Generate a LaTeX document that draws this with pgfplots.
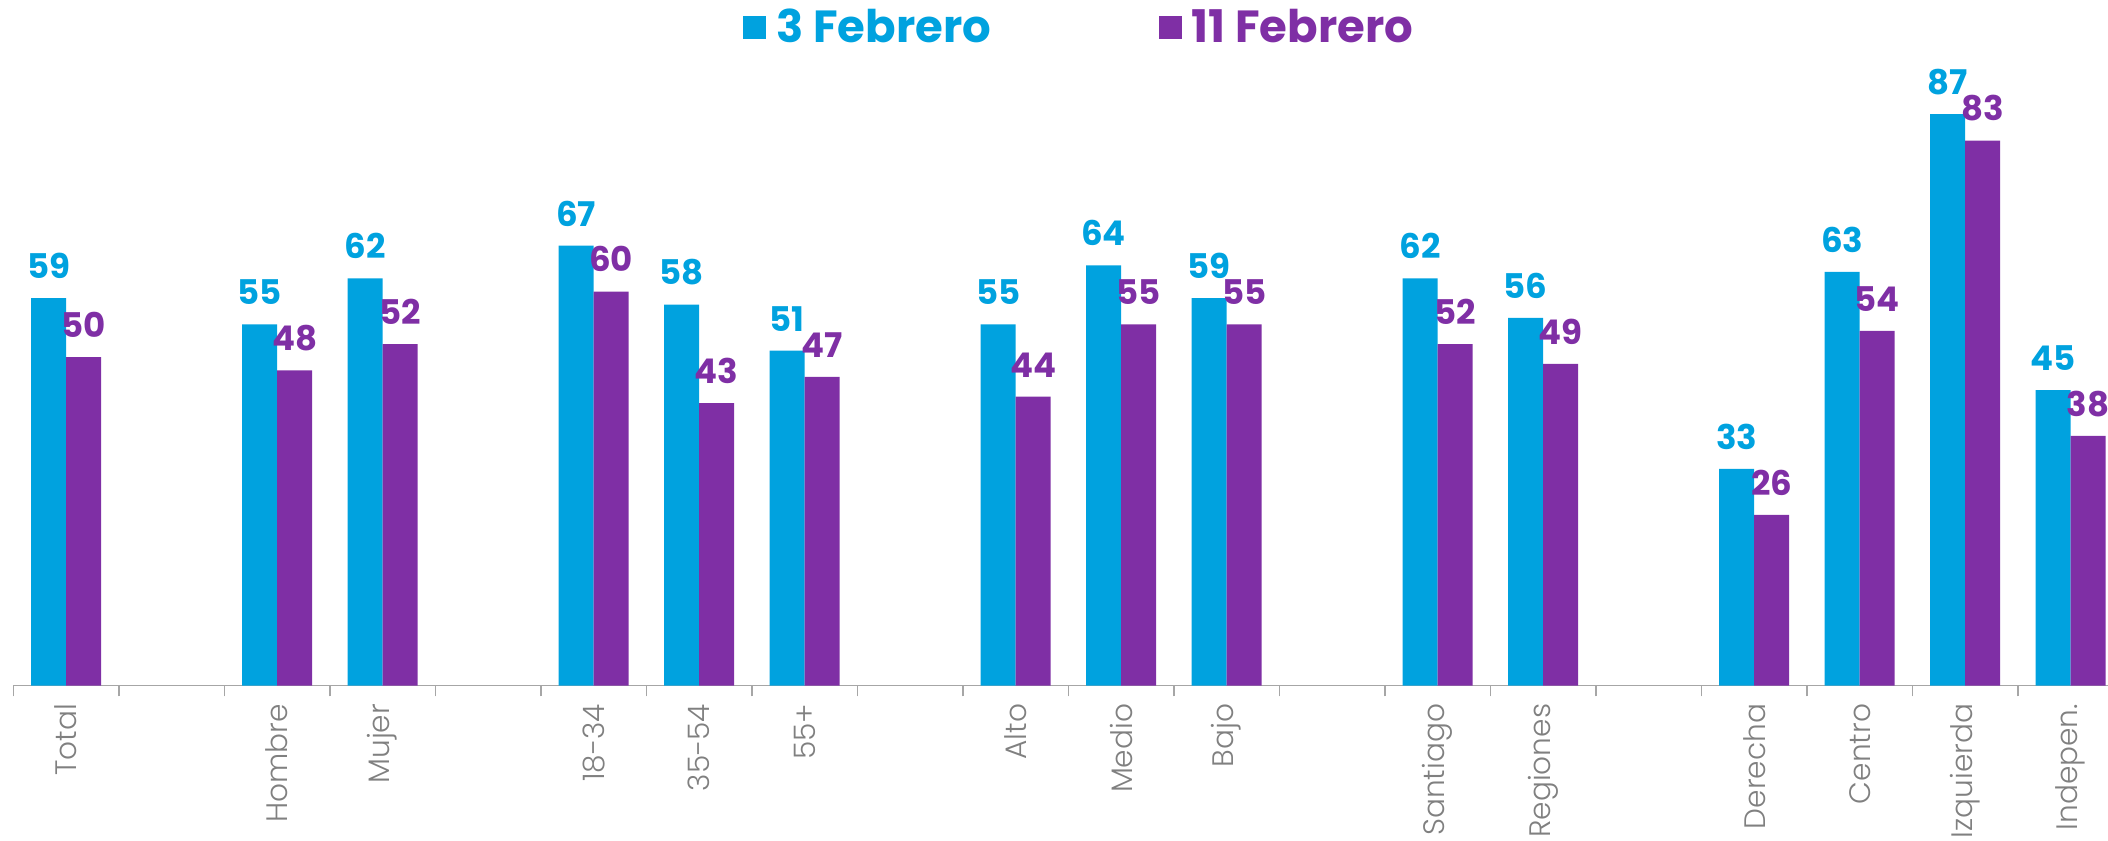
\documentclass[border=0pt]{standalone}
\usepackage{pgfplots}
\pgfplotsset{compat=1.18}
\usepackage{pgfplotstable}
\usepackage{fontspec}
\setmainfont{Poppins}
\IfFontExistsTF{Poppins Light}{\newfontfamily\lightfont{Poppins Light}}{\newfontfamily\lightfont{Poppins}}
\definecolor{cblue}{HTML}{00A2DF}
\definecolor{cpurp}{HTML}{7F2FA5}
\definecolor{axgray}{HTML}{A6A6A6}
\definecolor{lblgray}{HTML}{808080}
\pgfplotstableread{
x b p
0 59 50
2 55 48
3 62 52
5 67 60
6 58 43
7 51 47
9 55 44
10 64 55
11 59 55
13 62 52
14 56 49
16 33 26
17 63 54
18 87 83
19 45 38
}\datatab
\begin{document}
\begin{tikzpicture}
\begin{axis}[
  x=52.75pt, y=3.283pt,
  xmin=-0.5, xmax=19.5, ymin=0, ymax=104.4,
  enlargelimits=false, clip=false,
  axis x line*=bottom, axis y line=none,
  ybar=0pt, bar width=17.5pt,
  /pgf/number format/assume math mode=true,
  xtick={0,2,3,5,6,7,9,10,11,13,14,16,17,18,19},
  xticklabels={Total,Hombre,Mujer,18-34,35-54,55+,Alto,Medio,Bajo,Santiago,Regiones,Derecha,Centro,Izquierda,Indepen.},
  minor xtick={-0.5,0.5,...,19.5},
  major tick length=0pt, minor tick length=5.5pt,
  tick align=outside,
  x axis line style={axgray, line width=0.8pt, -},
  every tick/.style={axgray, line width=0.8pt},
  every minor tick/.style={axgray, line width=0.8pt},
  xticklabel style={yshift=-9pt, rotate=90, anchor=east, inner sep=0pt, text=lblgray, font=\lightfont\fontsize{14.8}{14.8}\selectfont},
  nodes near coords,
  every node near coord/.append style={font=\bfseries\fontsize{17}{17}\selectfont, anchor=south, inner sep=0pt, yshift=9.5pt},
  legend style={at={(0.3458,0.9599)}, anchor=west, draw=none, fill=none, legend columns=2, inner sep=0pt,
    nodes={inner sep=0pt}, font=\bfseries\fontsize{22.5}{22.5}\selectfont,
    /tikz/every even column/.append style={column sep=84pt},
    /tikz/every odd column/.append style={column sep=5pt}},
  legend cell align=left,
  legend image code/.code={\fill[#1] (0pt,-5.75pt) rectangle (11.5pt,5.75pt);},
]
\addplot[fill=cblue, draw=none, every node near coord/.append style={text=cblue}] table[x=x,y=b] {\datatab};
\addlegendentry[text=cblue]{3 Febrero}
\addplot[fill=cpurp, draw=none, every node near coord/.append style={text=cpurp}] table[x=x,y=p] {\datatab};
\addlegendentry[text=cpurp]{11 Febrero}
\end{axis}
\pgfresetboundingbox
\useasboundingbox (-6.7pt,-77.25pt) rectangle (1047.3pt,342.75pt);
\end{tikzpicture}
\end{document}
